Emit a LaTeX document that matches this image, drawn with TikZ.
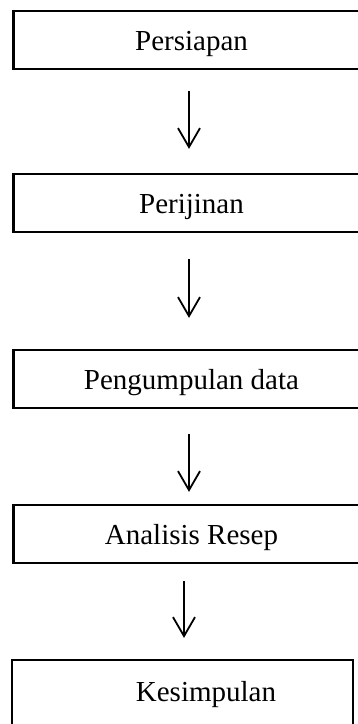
\documentclass[tikz,border=0pt]{standalone}
\usepackage{fontspec}
\setmainfont{Liberation Serif}
\usetikzlibrary{arrows.meta}
\begin{document}
\begin{tikzpicture}[x=1pt,y=-1pt,
  box/.style={draw,line width=2.2pt,minimum width=356pt,minimum height=58pt,inner sep=0pt,
    font=\fontsize{29}{34}\selectfont,text height=20pt,text depth=0pt},
  flow/.style={line width=1.8pt,-{Straight Barb[length=19pt,width=22pt,line width=1.8pt]}}]
\useasboundingbox (0,0) rectangle (357,724);
\node[box] (b1) at (191.5,40) {Persiapan};
\node[box] (b2) at (191.5,203) {Perijinan};
\node[box] (b3) at (191.5,379) {Pengumpulan data};
\node[box] (b4) at (191.5,534) {Analisis Resep};
\node[box,minimum width=341pt,minimum height=66pt,text height=16pt] (b5) at (182.5,693) {\hspace*{47pt}Kesimpulan};
\draw[flow,shorten <=21pt,shorten >=24pt] ([xshift=-2.5pt]b1.south) -- ([xshift=-2.5pt]b2.north);
\draw[flow,shorten <=26pt,shorten >=31pt] ([xshift=-2.5pt]b2.south) -- ([xshift=-2.5pt]b3.north);
\draw[flow,shorten <=25pt,shorten >=12pt] ([xshift=-2.5pt]b3.south) -- ([xshift=-2.5pt]b4.north);
\draw[flow,shorten <=17pt,shorten >=21pt] ([xshift=-7.5pt]b4.south) -- ([xshift=1.5pt]b5.north);
\end{tikzpicture}
\end{document}
